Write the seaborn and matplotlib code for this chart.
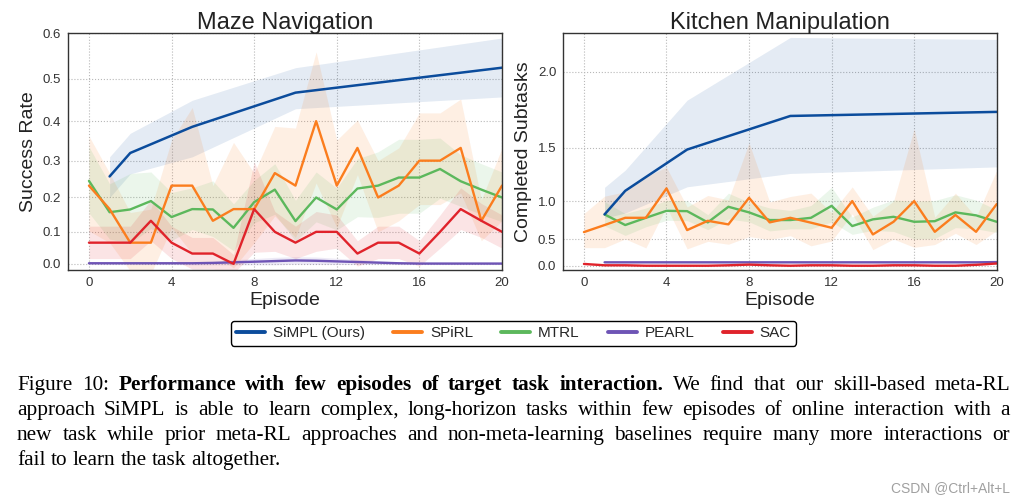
import numpy as np
import seaborn as sns
import matplotlib.pyplot as plt
from matplotlib.lines import Line2D
from matplotlib.ticker import FormatStrFormatter

# episodes on the x axis
episodes = list(range(21))
late_eps = list(range(1, 21))
simpl_eps = [1, 2, 5, 10, 20]

# ---- Maze Navigation: success rate ----
maze_simpl = [0.258, 0.32, 0.386, 0.468, 0.525]
maze_simpl_lo = [0.20, 0.265, 0.31, 0.43, 0.458]
maze_simpl_hi = [0.31, 0.37, 0.45, 0.525, 0.59]

maze_spirl = [0.233, 0.167, 0.067, 0.067, 0.233, 0.233, 0.133, 0.167, 0.167, 0.267, 0.233,
              0.4, 0.233, 0.333, 0.2, 0.233, 0.3, 0.3, 0.333, 0.133, 0.233]
maze_spirl_std = [0.13, 0.1, 0.09, 0.1, 0.12, 0.2, 0.1, 0.18, 0.1, 0.12, 0.15,
                  0.16, 0.12, 0.07, 0.1, 0.1, 0.12, 0.12, 0.12, 0.06, 0.1]

maze_mtrl = [0.246, 0.158, 0.166, 0.19, 0.144, 0.167, 0.166, 0.112, 0.187, 0.222, 0.132,
             0.2, 0.166, 0.225, 0.233, 0.255, 0.255, 0.278, 0.245, 0.222, 0.2]
maze_mtrl_std = [0.09, 0.08, 0.1, 0.08, 0.07, 0.06, 0.08, 0.07, 0.06, 0.07, 0.06,
                 0.07, 0.06, 0.08, 0.09, 0.1, 0.1, 0.08, 0.07, 0.07, 0.07]

maze_pearl = [0.002, 0.002, 0.002, 0.002, 0.002, 0.002, 0.003, 0.005, 0.007, 0.009, 0.011,
              0.01, 0.008, 0.006, 0.004, 0.002, 0.001, 0.001, 0.001, 0.001, 0.001]
maze_pearl_std = [0.004, 0.004, 0.004, 0.004, 0.004, 0.005, 0.006, 0.008, 0.01, 0.012, 0.012,
                  0.012, 0.01, 0.008, 0.006, 0.004, 0.003, 0.003, 0.003, 0.003, 0.003]

maze_sac = [0.067, 0.067, 0.067, 0.133, 0.067, 0.033, 0.033, 0.0, 0.167, 0.1, 0.067,
            0.1, 0.1, 0.033, 0.067, 0.067, 0.033, 0.1, 0.167, 0.133, 0.1]
maze_sac_std = [0.05, 0.05, 0.05, 0.06, 0.05, 0.05, 0.05, 0.03, 0.13, 0.06, 0.05,
                0.06, 0.05, 0.04, 0.05, 0.05, 0.04, 0.05, 0.06, 0.05, 0.05]

# ---- Kitchen Manipulation: completed subtasks ----
kit_simpl = [0.847, 1.114, 1.487, 1.732, 1.759]
kit_simpl_lo = [0.80, 0.864, 1.155, 1.283, 1.342]
kit_simpl_hi = [1.15, 1.313, 1.834, 2.18, 2.17]

kit_spirl = [0.608, 0.708, 0.804, 0.804, 1.139, 0.637, 0.765, 0.717, 1.04, 0.744, 0.804,
             0.74, 0.67, 1.004, 0.573, 0.752, 1.004, 0.612, 0.84, 0.612, 0.97]
kit_spirl_std = [0.25, 0.35, 0.3, 0.45, 0.2, 0.3, 0.3, 0.3, 0.5, 0.25, 0.25,
                 0.35, 0.2, 0.15, 0.25, 0.25, 0.64, 0.2, 0.25, 0.2, 0.34]

kit_mtrl = [0.847, 0.708, 0.804, 0.891, 0.887, 0.744, 0.939, 0.872, 0.775, 0.775,
            0.804, 0.95, 0.694, 0.784, 0.817, 0.752, 0.76, 0.872, 0.835, 0.752]
kit_mtrl_std = [0.15, 0.15, 0.12, 0.12, 0.12, 0.1, 0.15, 0.12, 0.15, 0.12,
                0.15, 0.2, 0.12, 0.15, 0.2, 0.25, 0.25, 0.2, 0.18, 0.15]

kit_pearl = [0.075, 0.075, 0.075, 0.075, 0.075, 0.075, 0.075, 0.075, 0.075, 0.075,
             0.075, 0.075, 0.075, 0.075, 0.075, 0.075, 0.075, 0.075, 0.075, 0.08]
kit_pearl_std = [0.015, 0.015, 0.015, 0.015, 0.015, 0.015, 0.015, 0.015, 0.015, 0.015,
                 0.015, 0.015, 0.015, 0.015, 0.015, 0.015, 0.015, 0.015, 0.015, 0.015]

kit_sac = [0.04, 0.01, 0.01, 0.0, 0.0, 0.0, 0.0, 0.01, 0.025, 0.01, 0.0,
           0.01, 0.01, 0.0, 0.0, 0.01, 0.01, 0.0, 0.0, 0.02, 0.05]
kit_sac_std = [0.015, 0.015, 0.015, 0.015, 0.015, 0.015, 0.015, 0.015, 0.015, 0.015, 0.015,
               0.015, 0.015, 0.015, 0.015, 0.015, 0.015, 0.015, 0.015, 0.015, 0.015]

method_names = ['SiMPL (Ours)', 'SPiRL', 'MTRL', 'PEARL', 'SAC']
method_colors = ['#0b4c9c', '#fb7d1e', '#5cb85c', '#6e54b5', '#e0232b']

caption_lines = [
    [('Figure 10:', 'normal'),
     ('Performance with few episodes of target task interaction.', 'bold'),
     ('We find that our skill-based meta-RL', 'normal')],
    [('approach SiMPL is able to learn complex, long-horizon tasks within few episodes '
      'of online interaction with a', 'normal')],
    [('new task while prior meta-RL approaches and non-meta-learning baselines require '
      'many more interactions or', 'normal')],
    [('fail to learn the task altogether.', 'normal')],
]
watermark = 'CSDN @Ctrl+Alt+L'

sns.set_theme(style="whitegrid", rc={
    'grid.linestyle': ':',
    'grid.color': '#b8b8b8',
    'grid.linewidth': 0.8,
    'axes.edgecolor': '#333333',
    'axes.linewidth': 1.0,
})
plt.rcParams['font.family'] = ['Liberation Sans', 'DejaVu Sans']


# the y axes in the paper are stretched towards the top (exponential scale)
def exp_fwd(y):
    return np.exp(0.7 * np.asarray(y))


def exp_inv(v):
    return np.log(np.maximum(np.asarray(v), 1e-9)) / 0.7


fig = plt.figure(figsize=(10.27, 4.98), dpi=100)
ax_maze = fig.add_axes([0.0665, 0.4578, 0.4223, 0.4753])
ax_kit = fig.add_axes([0.5485, 0.4578, 0.4220, 0.4753])


def draw_panel(ax, simpl, others):
    # simpl = (x, mean, lo, hi); others = list of (x, mean, std)
    c_simpl, c_spirl, c_mtrl, c_pearl, c_sac = method_colors
    other_colors = [c_spirl, c_mtrl, c_pearl, c_sac]
    x, m, lo, hi = simpl
    ax.fill_between(x, lo, hi, color=c_simpl, alpha=0.11, lw=0)
    for (x, m, s), c in zip(others, other_colors):
        m = np.array(m)
        s = np.array(s)
        ax.fill_between(x, m - s, m + s, color=c, alpha=0.12, lw=0)
    order = [2, 1, 0, 3]  # pearl, mtrl, spirl, sac
    for i in order:
        x, m, s = others[i]
        sns.lineplot(x=x, y=m, ax=ax, color=other_colors[i], lw=1.7)
    x, m, lo, hi = simpl
    sns.lineplot(x=x, y=m, ax=ax, color=c_simpl, lw=1.8)


draw_panel(ax_maze,
           (simpl_eps, maze_simpl, maze_simpl_lo, maze_simpl_hi),
           [(episodes, maze_spirl, maze_spirl_std),
            (episodes, maze_mtrl, maze_mtrl_std),
            (episodes, maze_pearl, maze_pearl_std),
            (episodes, maze_sac, maze_sac_std)])

draw_panel(ax_kit,
           (simpl_eps, kit_simpl, kit_simpl_lo, kit_simpl_hi),
           [(episodes, kit_spirl, kit_spirl_std),
            (late_eps, kit_mtrl, kit_mtrl_std),
            (late_eps, kit_pearl, kit_pearl_std),
            (episodes, kit_sac, kit_sac_std)])

panels = [
    (ax_maze, 'Maze Navigation', 'Success Rate', (-0.02, 0.6), [0.0, 0.1, 0.2, 0.3, 0.4, 0.5, 0.6]),
    (ax_kit, 'Kitchen Manipulation', 'Completed Subtasks', (-0.1, 2.2), [0.0, 0.5, 1.0, 1.5, 2.0]),
]
for ax, title, ylabel, ylim, yticks in panels:
    ax.set_yscale('function', functions=(exp_fwd, exp_inv))
    ax.set_ylim(*ylim)
    ax.set_yticks(yticks)
    ax.yaxis.set_major_formatter(FormatStrFormatter('%.1f'))
    ax.yaxis.set_minor_locator(plt.NullLocator())
    ax.set_xlim(-1, 20)
    ax.set_xticks([0, 4, 8, 12, 16, 20])
    ax.tick_params(axis='both', labelsize=9.5, labelcolor='#333333', pad=5, length=0)
    ax.set_title(title, fontsize=17, pad=3, color='#222222')
    ax.set_xlabel('Episode', fontsize=14, labelpad=2, color='#222222')
    ax.set_ylabel(ylabel, fontsize=14, labelpad=4, color='#222222')
    ax.grid(True, which='major')
    for sp in ax.spines.values():
        sp.set_visible(True)
        sp.set_color('#333333')
        sp.set_linewidth(1.0)

handles = [Line2D([], [], color=c, lw=2.8) for c in method_colors]
leg = fig.legend(handles, method_names, loc='center', bbox_to_anchor=(0.5, 0.331),
                 ncol=5, fontsize=11, frameon=True, fancybox=True, framealpha=1,
                 edgecolor='black', handlelength=1.9, handletextpad=0.5,
                 columnspacing=1.85, borderpad=0.35)
leg.get_frame().set_linewidth(1.0)

# caption below the figure, justified like the paper text
renderer = fig.canvas.get_renderer()
W, H = fig.bbox.width, fig.bbox.height
cap_left, cap_right = 17, 1010
cap_baselines = [390, 415, 440, 465]
cap_size = 15.3
space_px = 0.25 * cap_size * fig.dpi / 72
for li, (pieces, base) in enumerate(zip(caption_lines, cap_baselines)):
    words = []
    for txt, weight in pieces:
        for w in txt.split(' '):
            words.append((w, weight))
    arts = []
    for w, weight in words:
        t = fig.text(0, 1 - base / H, w, fontsize=cap_size, fontweight=weight,
                     family=['Liberation Serif', 'DejaVu Serif'], va='baseline',
                     ha='left', color='black')
        arts.append(t)
    widths = [a.get_window_extent(renderer).width for a in arts]
    justify = li < len(caption_lines) - 1
    if justify and len(arts) > 1:
        gap = (cap_right - cap_left - sum(widths)) / (len(arts) - 1)
        gap = max(gap, 0.6 * space_px)
    else:
        gap = space_px
    x = cap_left
    for a, w in zip(arts, widths):
        a.set_x(x / W)
        x += w + gap

fig.text(1010 / W, 1 - 488 / H, watermark, fontsize=10, color='#a0a0a0',
         ha='right', va='center')

fig.savefig('out.png', dpi=100, facecolor='white')
